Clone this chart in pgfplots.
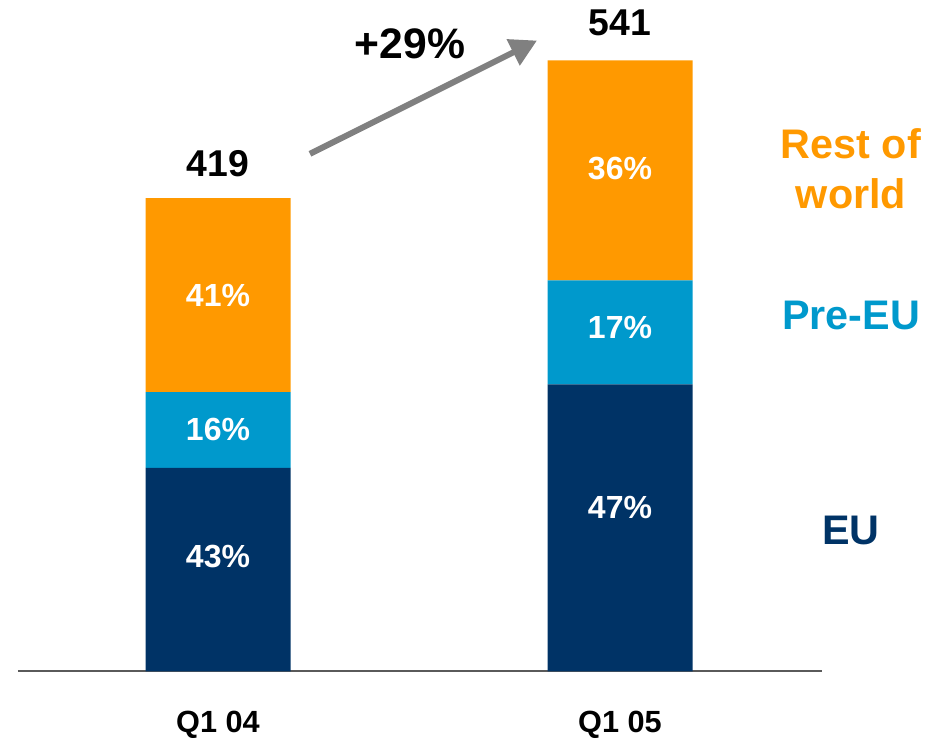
\documentclass[border=0pt]{standalone}
\usepackage{fontspec}
\setmainfont{Liberation Sans}
\usepackage{pgfplots}
\pgfplotsset{compat=1.18}
\usetikzlibrary{arrows.meta}
\definecolor{navy}{RGB}{0,51,102}
\definecolor{preeu}{RGB}{0,153,204}
\definecolor{orng}{RGB}{255,153,0}
\definecolor{arrowgray}{RGB}{128,128,128}
\definecolor{axgray}{RGB}{90,90,90}
\tikzset{pct/.style={font=\bfseries\fontsize{24}{28}\selectfont, text=white}}
\begin{document}
\begin{tikzpicture}
\begin{axis}[
  scale only axis,
  width=603pt, height=503.6pt,
  xmin=18, xmax=822,
  ymin=0, ymax=594.5,
  clip=false,
  axis x line*=bottom,
  axis y line=none,
  x axis line style={-, draw=axgray, line width=1.5pt},
  xtick={218,620},
  xticklabels={Q1 04, Q1 05},
  major tick length=0pt,
  xticklabel style={font=\bfseries\fontsize{23}{27}\selectfont, anchor=base, yshift=-45.5pt},
  ybar stacked,
  bar width=145,
]
\addplot[fill=navy, draw=none] coordinates {(218,180.17) (620,254.27)};
\addplot[fill=preeu, draw=none] coordinates {(218,67.04) (620,91.97)};
\addplot[fill=orng, draw=none] coordinates {(218,171.79) (620,194.76)};

\path (axis cs:0,-54.5) rectangle (axis cs:944,594.5);

\coordinate (a1) at (axis cs:218,101.6);
\coordinate (a2) at (axis cs:218,214.3);
\coordinate (a3) at (axis cs:218,333.2);
\coordinate (b1) at (axis cs:620,145.1);
\coordinate (b2) at (axis cs:620,304.8);
\coordinate (b3) at (axis cs:620,445.0);

\node[font=\bfseries\fontsize{28}{32}\selectfont] at (axis cs:218,449.4) {419};
\node[font=\bfseries\fontsize{28}{32}\selectfont] at (axis cs:620,574.5) {541};
\node[font=\bfseries\fontsize{32}{36}\selectfont] at (axis cs:410,555.9) {+29\%};

\draw[arrowgray, line width=4.5pt, -{Triangle[length=20pt,width=21pt]}]
  (axis cs:310,458.3) -- (axis cs:537,558.6);

\node[font=\bfseries\fontsize{31}{37.5}\selectfont, text=orng, align=center] at (axis cs:851,445.0) {Rest of\\world};
\node[font=\bfseries\fontsize{31}{37}\selectfont, text=preeu] at (axis cs:851,315.4) {Pre-EU};
\node[font=\bfseries\fontsize{31}{37}\selectfont, text=navy] at (axis cs:851,124.7) {EU};
\end{axis}
\node[pct] at (a1) {43\%};
\node[pct] at (a2) {16\%};
\node[pct] at (a3) {41\%};
\node[pct] at (b1) {47\%};
\node[pct] at (b2) {17\%};
\node[pct] at (b3) {36\%};
\end{tikzpicture}
\end{document}
